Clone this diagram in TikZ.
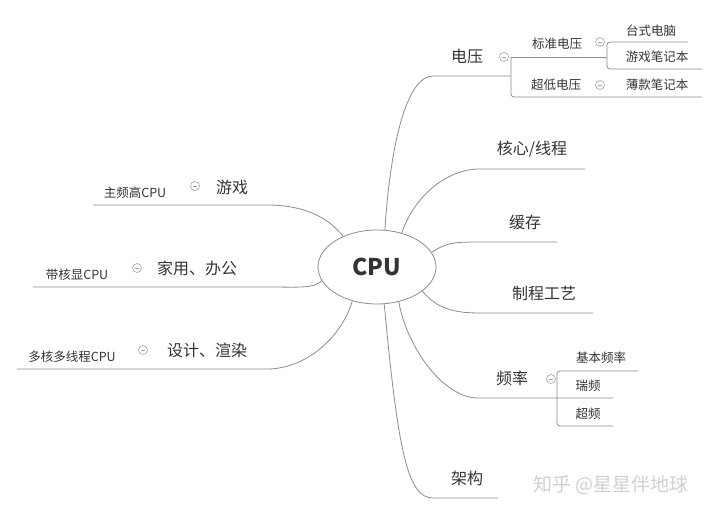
\documentclass[tikz,border=0pt]{standalone}
\usepackage{fontspec}
\setmainfont{Noto Sans CJK SC}
\usetikzlibrary{shapes.geometric}
\definecolor{linegray}{HTML}{8C8C8C}
\definecolor{textgray}{HTML}{333333}
\definecolor{markgray}{HTML}{D0D0D0}
\begin{document}
\begin{tikzpicture}[x=1pt,y=1pt]
  % Parameters
  \def\foldr{4.5}  % radius of the fold marks
  \def\corner{3}   % rounded bracket corners

  % Styles and the fold mark
  \tikzset{
    line/.style={draw=linegray, line width=0.8pt},
    topic/.style={text=textgray, font=\fontsize{16}{18}\selectfont, inner sep=0pt},
    subtopic/.style={text=textgray, font=\fontsize{12.5}{14}\selectfont, inner sep=0pt},
    fold/.pic={
      \draw[linegray!80, line width=0.6pt] (0,0) circle (\foldr);
      \draw[linegray!80, line width=0.6pt] (-2.4,0) -- (2.4,0);
    }
  }

  \useasboundingbox (0,0) rectangle (718,514);

  % Central topic
  \node[draw=linegray, line width=0.8pt, ellipse, minimum width=118, minimum height=74,
        text=textgray, font=\bfseries\fontsize{23}{26}\selectfont] (cpu) at (377,247) {CPU};

  % ---- right side ----
  % 电压
  \node[topic] (dy) at (467,458) {电压};
  \pic at (504,457) {fold};
  \coordinate (dy-s) at (433,438);
  \coordinate (dy-j) at (511,438);
  \draw[line] (cpu.78) .. controls +(6,92) and +(-25,0) .. (dy-s) -- (dy-j);

  \node[subtopic] (bz) at (557,470) {标准电压};
  \pic at (600,472) {fold};
  \node[subtopic] (cd) at (556,429) {超低电压};
  \pic at (600,429) {fold};
  \coordinate (bz-s) at (511,457);
  \coordinate (bz-j) at (607,457);
  \coordinate (cd-e) at (702,417);
  \draw[line] (bz-j) -- (bz-s);
  \draw[line, rounded corners=\corner] (bz-s) -- (511,417) -- (cd-e);

  \node[subtopic] (tsdn) at (651,483) {台式电脑};
  \node[subtopic] (yxbj) at (657,457) {游戏笔记本};
  \node[subtopic] (bkbj) at (657,429) {薄款笔记本};
  \coordinate (tsdn-e) at (688,472);
  \coordinate (yxbj-e) at (702,445);
  \draw[line, rounded corners=\corner] (tsdn-e) -- (607,472) -- (607,445) -- (yxbj-e);

  % 核心/线程, 缓存, 制程工艺
  \node[topic] (hx) at (532,365) {核心/线程};
  \coordinate (hx-s) at (480,345);
  \coordinate (hx-e) at (585,345);
  \draw[line] (cpu.54) .. controls +(12,35) and +(-35,0) .. (hx-s) -- (hx-e);

  \node[topic] (hc) at (525,292) {缓存};
  \coordinate (hc-s) at (480,272);
  \coordinate (hc-e) at (557,272);
  \draw[line] (cpu.15) .. controls +(15,10) and +(-25,0) .. (hc-s) -- (hc-e);

  \node[topic] (zc) at (544,221) {制程工艺};
  \coordinate (zc-s) at (480,201);
  \coordinate (zc-e) at (593,201);
  \draw[line] (cpu.-28) .. controls +(15,-18) and +(-25,0) .. (zc-s) -- (zc-e);

  % 频率
  \node[topic] (pl) at (512,136) {频率};
  \pic at (551,135) {fold};
  \coordinate (pl-s) at (478,116);
  \coordinate (pl-e) at (613,116);
  \draw[line] (cpu.-58) .. controls +(8,-45) and +(-35,0) .. (pl-s) -- (pl-e);

  \node[subtopic] (jb) at (601,156) {基本频率};
  \node[subtopic] (rp) at (588,128) {瑞频};
  \node[subtopic] (cp) at (588,100) {超频};
  \coordinate (jb-e) at (638,143);
  \coordinate (cp-e) at (613,88);
  \draw[line, rounded corners=\corner] (jb-e) -- (557,143) -- (557,88) -- (cp-e);

  % 架构
  \node[topic] (jg) at (467,36) {架构};
  \coordinate (jg-s) at (433,16);
  \coordinate (jg-e) at (498,16);
  \draw[line] (cpu.-79) .. controls +(14,-150) and +(-25,0) .. (jg-s) -- (jg-e);

  % ---- left side ----
  \node[topic] (yx) at (232,327) {游戏};
  \pic at (195,328) {fold};
  \node[subtopic] (zp) at (135,321) {主频高CPU};
  \coordinate (yx-s) at (93,309);
  \coordinate (yx-e) at (267,309);
  \draw[line] (yx-s) -- (yx-e) .. controls +(35,0) and +(-15,20) .. (cpu.138);

  \node[topic] (jy) at (197,246) {家用、办公};
  \pic at (137,246) {fold};
  \node[subtopic] (hxx) at (77,239) {带核显CPU};
  \coordinate (jy-s) at (33,227);
  \coordinate (jy-e) at (267,227);
  \draw[line] (jy-s) -- (jy-e) .. controls +(32,0) and +(-8,-8) .. (cpu.194);

  \node[topic] (sj) at (207,164) {设计、渲染};
  \pic at (143,164) {fold};
  \node[subtopic] (dh) at (72,157) {多核多线程CPU};
  \coordinate (sj-s) at (17,145);
  \coordinate (sj-e) at (267,145);
  \draw[line] (sj-s) -- (sj-e) .. controls +(40,0) and +(-10,-35) .. (cpu.234);

  % watermark
  \node[text=markgray, font=\fontsize{19}{22}\selectfont, inner sep=0pt] (wm) at (611,29) {知乎 @星星伴地球};
\end{tikzpicture}
\end{document}
